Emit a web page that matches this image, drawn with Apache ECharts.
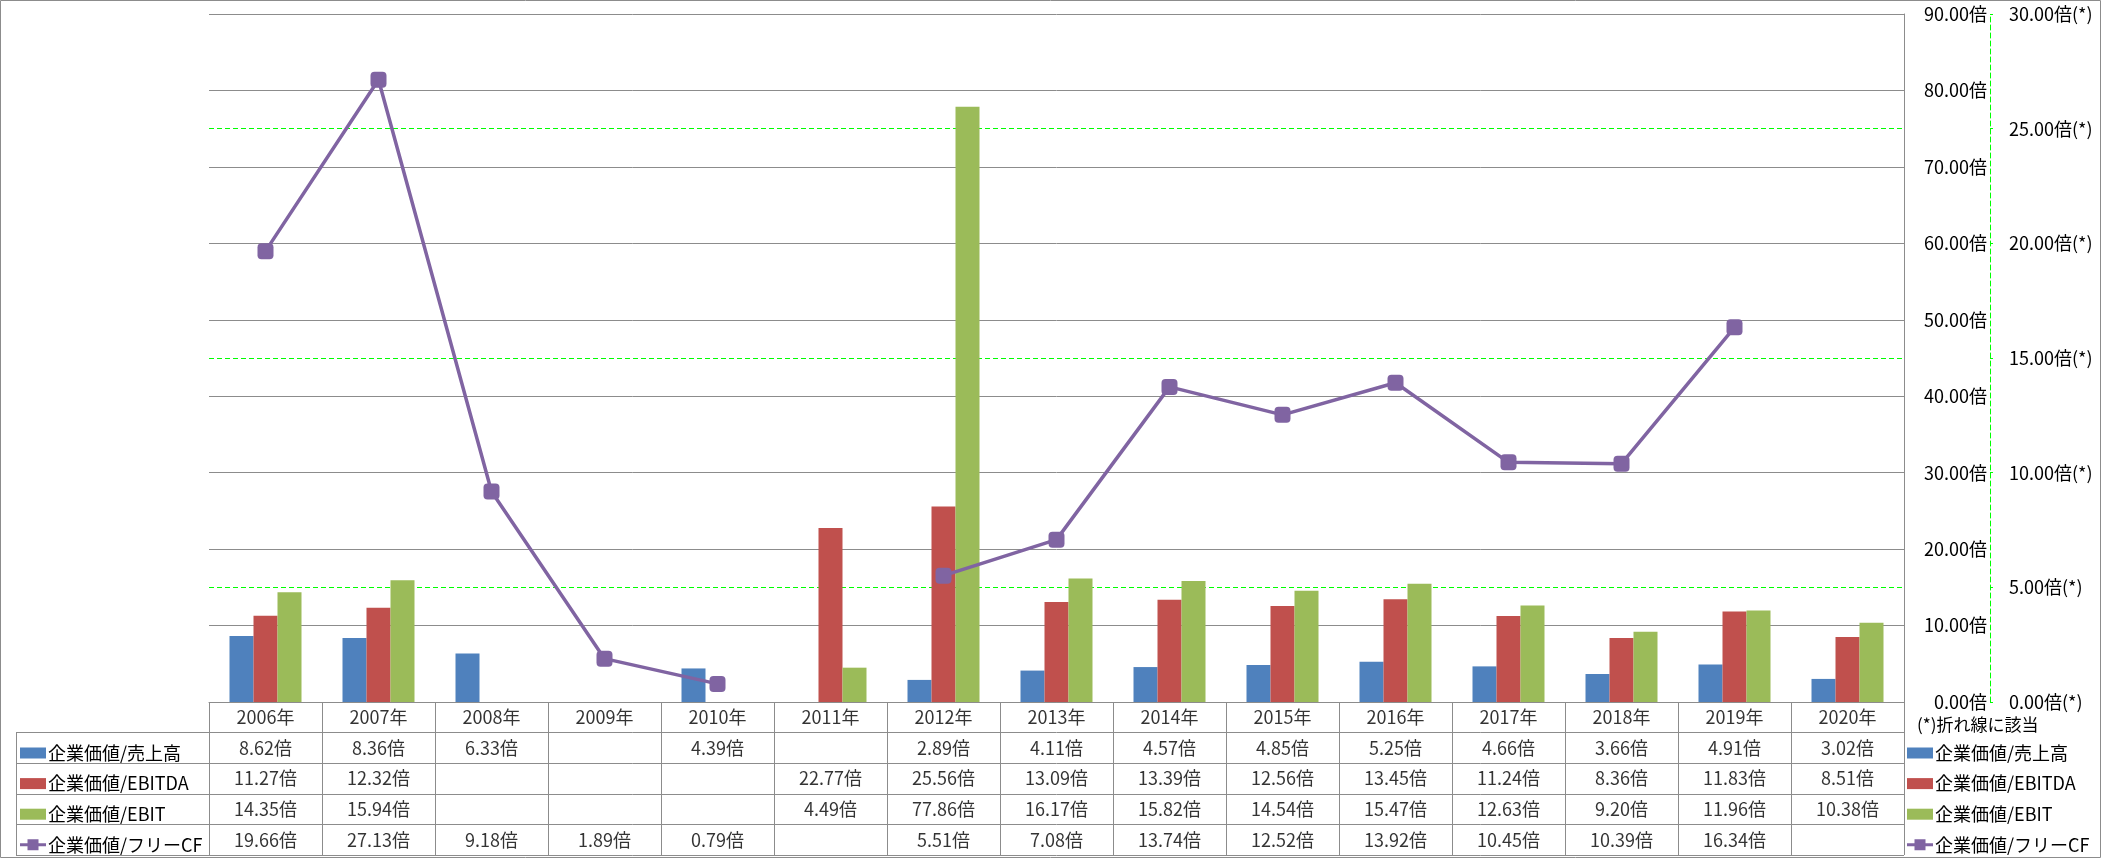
<!DOCTYPE html>
<html>
<head>
<meta charset="utf-8">
<script src="https://cdn.jsdelivr.net/npm/echarts@6/dist/echarts.min.js"></script>
<style>
  html, body { margin: 0; padding: 0; background: #fff; }
  #chart { width: 2101px; height: 858px; }
</style>
</head>
<body>
<div id="chart"></div>
<script>
// 年度
const years = ['2006年', '2007年', '2008年', '2009年', '2010年', '2011年', '2012年', '2013年',
  '2014年', '2015年', '2016年', '2017年', '2018年', '2019年', '2020年']

// 各指標（倍）
const evSales = [8.62, 8.36, 6.33, null, 4.39, null, 2.89, 4.11, 4.57, 4.85, 5.25, 4.66, 3.66, 4.91, 3.02]
const evEbitda = [11.27, 12.32, null, null, null, 22.77, 25.56, 13.09, 13.39, 12.56, 13.45, 11.24, 8.36, 11.83, 8.51]
const evEbit = [14.35, 15.94, null, null, null, 4.49, 77.86, 16.17, 15.82, 14.54, 15.47, 12.63, 9.20, 11.96, 10.38]
const evFcf = [19.66, 27.13, 9.18, 1.89, 0.79, null, 5.51, 7.08, 13.74, 12.52, 13.92, 10.45, 10.39, 16.34, null]

const seriesNames = ['企業価値/売上高', '企業価値/EBITDA', '企業価値/EBIT', '企業価値/フリーCF']
const colors = ['#4F81BD', '#C0504D', '#9BBB59', '#8064A2']

// 目盛
const leftMax = 90, leftStep = 10
const rightMax = 30, rightStep = 5

const FONT = '"Noto Sans CJK JP", "Noto Sans", sans-serif'
const GRID_GRAY = '#8c8c8c'
const TEXT = '#000'

// データテーブル用のセル（ヘッダ行 + 4行）
const tableRows = ['hdr', 'r1', 'r2', 'r3', 'r4']
const tableCells = []
years.forEach((y, i) => tableCells.push([i, 0, y]))
;[evSales, evEbitda, evEbit, evFcf].forEach((arr, r) => {
  arr.forEach((v, i) => {
    if (v != null) tableCells.push([i, r + 1, v.toFixed(2) + '倍'])
  })
})

const chart = echarts.init(document.getElementById('chart'))

// 折れ線の凡例アイコン（線＋四角）
const lineIcon = 'path://M0,4H26V7H0Z M7.5,0H18.5V11H7.5Z'

const legendBase = {
  orient: 'vertical',
  top: 743,
  padding: 0,
  height: 115,
  itemWidth: 26,
  itemHeight: 11,
  itemGap: 10.6,
  textStyle: { fontFamily: FONT, fontSize: 18, color: TEXT, lineHeight: 20, padding: [0, 0, 0, -3] },
  data: [
    { name: seriesNames[0], icon: 'rect' },
    { name: seriesNames[1], icon: 'rect' },
    { name: seriesNames[2], icon: 'rect' },
    { name: seriesNames[3], icon: lineIcon }
  ],
  selectedMode: false
}

const option = {
  animation: false,
  textStyle: { fontFamily: FONT },
  title: {
    text: '(*)折れ線に該当',
    left: 1912,
    top: 711,
    textStyle: { fontFamily: FONT, fontSize: 17, fontWeight: 'normal', color: TEXT }
  },
  legend: [
    Object.assign({ left: 20 }, legendBase),
    Object.assign({ left: 1907 }, legendBase)
  ],
  grid: [
    { left: 209, width: 1695, top: 14, height: 688 },      // メイングラフ
    { left: 209, width: 1695, top: 702, height: 153 },     // データテーブル
    { left: 16, width: 193, top: 732.6, height: 122.4 }    // テーブルの系列名列
  ],
  xAxis: [
    {
      type: 'category', gridIndex: 0, data: years,
      axisLine: { lineStyle: { color: GRID_GRAY } },
      axisTick: { show: false },
      axisLabel: { show: false }
    },
    {
      type: 'category', gridIndex: 1, data: years,
      axisLine: { show: false },
      axisTick: { show: false },
      axisLabel: { show: false },
      splitLine: { show: true, interval: 0, lineStyle: { color: GRID_GRAY } }
    },
    { type: 'value', gridIndex: 2, show: false }
  ],
  yAxis: [
    {
      type: 'value', gridIndex: 0, position: 'right',
      min: 0, max: leftMax, interval: leftStep, z: 1,
      axisLine: { show: true, lineStyle: { color: GRID_GRAY } },
      axisTick: { show: false },
      axisLabel: {
        align: 'right', margin: 83,
        fontFamily: FONT, fontSize: 18, color: TEXT,
        formatter: v => v.toFixed(2) + '倍'
      },
      splitLine: { show: true, lineStyle: { color: GRID_GRAY, width: 1 } }
    },
    {
      type: 'value', gridIndex: 0, position: 'right', offset: 86,
      min: 0, max: rightMax, interval: rightStep, z: 0,
      axisLine: { show: true, lineStyle: { color: '#00FF00', type: [5, 3] } },
      axisTick: { show: true, inside: false, length: 3, lineStyle: { color: '#00FF00' } },
      axisLabel: {
        align: 'left', margin: 19,
        fontFamily: FONT, fontSize: 18, color: TEXT,
        formatter: v => v.toFixed(2) + '倍(*)'
      },
      splitLine: { show: true, lineStyle: { color: '#00FF00', type: [5, 3], width: 1 } }
    },
    {
      type: 'category', gridIndex: 1, data: tableRows, inverse: true,
      axisLine: { show: false },
      axisTick: { show: false },
      axisLabel: { show: false },
      splitLine: { show: true, interval: 0, lineStyle: { color: GRID_GRAY } }
    },
    {
      type: 'category', gridIndex: 2, data: tableRows.slice(1), inverse: true,
      axisLine: { show: true, lineStyle: { color: GRID_GRAY } },
      axisTick: { show: false },
      axisLabel: { show: false },
      splitLine: { show: true, interval: 0, lineStyle: { color: GRID_GRAY } }
    }
  ],
  series: [
    {
      name: seriesNames[0], type: 'bar', xAxisIndex: 0, yAxisIndex: 0,
      data: evSales, barWidth: 24, barGap: '0%',
      itemStyle: { color: colors[0] }
    },
    {
      name: seriesNames[1], type: 'bar', xAxisIndex: 0, yAxisIndex: 0,
      data: evEbitda, barWidth: 24, barGap: '0%',
      itemStyle: { color: colors[1] }
    },
    {
      name: seriesNames[2], type: 'bar', xAxisIndex: 0, yAxisIndex: 0,
      data: evEbit, barWidth: 24, barGap: '0%',
      itemStyle: { color: colors[2] }
    },
    {
      name: seriesNames[3], type: 'line', xAxisIndex: 0, yAxisIndex: 1,
      data: evFcf, connectNulls: false,
      symbol: 'roundRect', symbolSize: 16,
      lineStyle: { color: colors[3], width: 3.5 },
      itemStyle: { color: colors[3] }
    },
    {
      // データテーブルの文字
      type: 'scatter', xAxisIndex: 1, yAxisIndex: 2,
      data: tableCells, symbolSize: 1, silent: true,
      itemStyle: { color: 'transparent' },
      label: {
        show: true, position: 'inside',
        fontFamily: FONT, fontSize: 18, color: TEXT,
        formatter: p => p.value[2]
      }
    }
  ],
  graphic: [
    {
      type: 'rect', silent: true,
      shape: { x: 0.5, y: 0.5, width: 2100, height: 857 },
      style: { fill: 'none', stroke: GRID_GRAY, lineWidth: 1 }
    }
  ]
}

chart.setOption(option)
</script>
</body>
</html>
